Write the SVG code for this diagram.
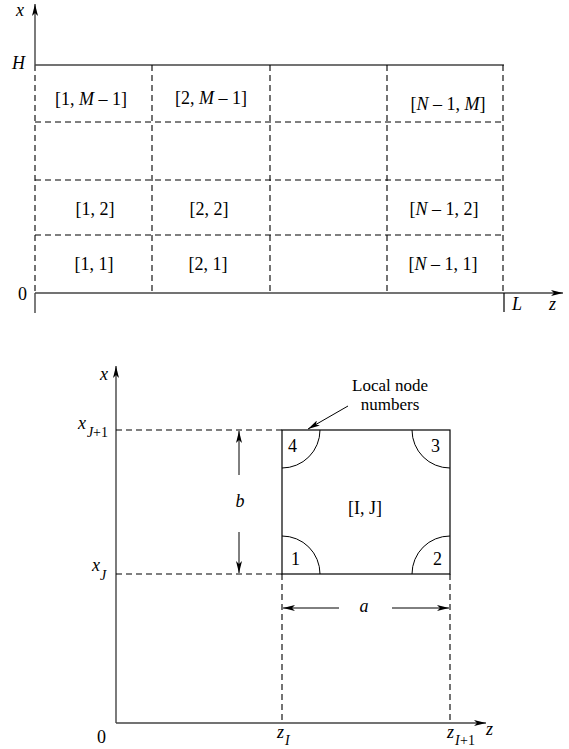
<svg xmlns="http://www.w3.org/2000/svg" width="569" height="749" viewBox="0 0 569 749">
<style>
text { font-family: "Liberation Serif", "Times New Roman", serif; font-size: 18px; fill: #000; }
.it { font-style: italic; }
.sub { font-size: 14px; }
.mid { text-anchor: middle; }
.small { font-size: 17px; }
.axis { stroke: #444; stroke-width: 1.4; fill: none; }
.dash { stroke: #000; stroke-width: 1.1; stroke-dasharray: 6 4; fill: none; }
.solid { stroke: #000; stroke-width: 1.2; fill: none; }
.thin { stroke: #000; stroke-width: 1; fill: none; }
</style>
<defs>
<marker id="arr" viewBox="0 0 12 6" refX="12" refY="3" markerWidth="12" markerHeight="6" markerUnits="userSpaceOnUse" orient="auto">
<path d="M0,0 L12,3 L0,6 L3,3 z" fill="#000"/>
</marker>
</defs>

<g id="connectors">
<line class="axis" x1="35" y1="65" x2="35" y2="4" marker-end="url(#arr)"/>
<line class="dash" x1="35" y1="65" x2="35" y2="293"/>
<line class="axis" x1="35" y1="293" x2="35" y2="313"/>
<line class="axis" x1="35" y1="65" x2="504" y2="65"/>
<line class="axis" x1="35" y1="293" x2="563" y2="293" marker-end="url(#arr)"/>
<line class="dash" x1="152" y1="65" x2="152" y2="293"/>
<line class="dash" x1="270" y1="65" x2="270" y2="293"/>
<line class="dash" x1="387" y1="65" x2="387" y2="293"/>
<line class="dash" x1="503" y1="65" x2="503" y2="293"/>
<line class="dash" x1="35" y1="122" x2="503" y2="122"/>
<line class="dash" x1="35" y1="180" x2="503" y2="180"/>
<line class="dash" x1="35" y1="235" x2="503" y2="235"/>
<line class="solid" x1="504" y1="293" x2="504" y2="312"/>

<line class="axis" x1="116" y1="723" x2="116" y2="366" marker-end="url(#arr)"/>
<line class="axis" x1="116" y1="723" x2="486" y2="723" marker-end="url(#arr)"/>
<line class="dash" x1="116" y1="430" x2="282" y2="430"/>
<line class="dash" x1="116" y1="574" x2="282" y2="574"/>
<line class="dash" x1="282" y1="574" x2="282" y2="723"/>
<line class="dash" x1="450" y1="574" x2="450" y2="723"/>

<line class="thin" x1="239" y1="475" x2="239" y2="431" marker-end="url(#arr)"/>
<line class="thin" x1="239" y1="532" x2="239" y2="573" marker-end="url(#arr)"/>
<line class="thin" x1="339" y1="608" x2="283" y2="608" marker-end="url(#arr)"/>
<line class="thin" x1="392" y1="608" x2="449" y2="608" marker-end="url(#arr)"/>
<line class="thin" x1="348" y1="406" x2="308" y2="429" marker-end="url(#arr)"/>
</g>

<g id="axis-labels">
<text class="it" x="16" y="16">x</text>
<text class="it" x="12" y="69">H</text>
<text x="18" y="300">0</text>
<text class="it" x="512" y="310">L</text>
<text class="it" x="549" y="310">z</text>

<text class="it" x="100" y="380">x</text>
<text class="it" x="486" y="735">z</text>
<text x="97" y="743">0</text>
<text class="it" x="78" y="429">x</text><text class="it sub" x="87" y="437">J</text><text class="sub" x="93" y="437">+1</text>
<text class="it" x="92" y="571">x</text><text class="it sub" x="100" y="580">J</text>
<text class="it" x="277" y="738">z</text><text class="it sub" x="285" y="745">I</text>
<text class="it" x="447" y="738">z</text><text class="it sub" x="455" y="745">I</text><text class="sub" x="460" y="745">+1</text>
</g>

<g id="cell-1-M-1"><text class="mid" x="91" y="105">[1, <tspan class="it">M</tspan> – 1]</text></g>
<g id="cell-2-M-1"><text class="mid" x="211" y="104">[2, <tspan class="it">M</tspan> – 1]</text></g>
<g id="cell-N-1-M"><text class="mid" x="448" y="110">[<tspan class="it">N</tspan> – 1, <tspan class="it">M</tspan>]</text></g>
<g id="cell-1-2"><text class="mid" x="95" y="215">[1, 2]</text></g>
<g id="cell-2-2"><text class="mid" x="209" y="215">[2, 2]</text></g>
<g id="cell-N-1-2"><text class="mid" x="444" y="215">[<tspan class="it">N</tspan> – 1, 2]</text></g>
<g id="cell-1-1"><text class="mid" x="94" y="270">[1, 1]</text></g>
<g id="cell-2-1"><text class="mid" x="208" y="270">[2, 1]</text></g>
<g id="cell-N-1-1"><text class="mid" x="443" y="270">[<tspan class="it">N</tspan> – 1, 1]</text></g>

<g id="element-IJ">
<rect class="solid" x="282" y="430" width="168" height="144"/>
<path class="thin" d="M320,430 A38,38 0 0 1 282,468"/>
<path class="thin" d="M450,468 A38,38 0 0 1 412,430"/>
<path class="thin" d="M412,574 A38,38 0 0 1 450,536"/>
<path class="thin" d="M282,536 A38,38 0 0 1 320,574"/>
<text x="288" y="452">4</text>
<text x="431" y="452">3</text>
<text x="291" y="565">1</text>
<text x="433" y="565">2</text>
<text class="mid" x="365" y="514">[I, J]</text>
</g>

<g id="dim-b"><text class="it mid" x="240" y="507">b</text></g>
<g id="dim-a"><text class="it mid" x="364" y="612">a</text></g>
<g id="local-node-label">
<text class="mid small" x="390" y="391">Local node</text>
<text class="mid small" x="390" y="410">numbers</text>
</g>
</svg>
